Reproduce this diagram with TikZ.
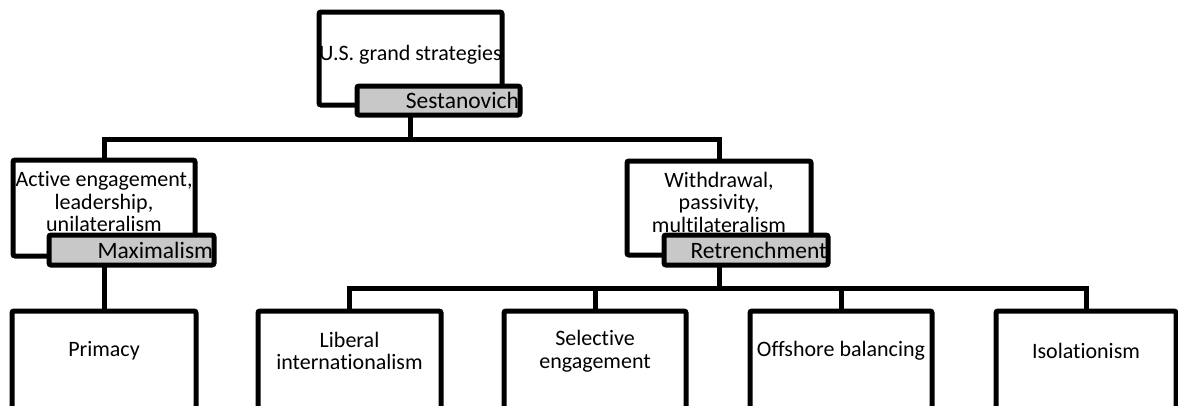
\documentclass[tikz,border=0pt]{standalone}
\usepackage{fontspec}
\setmainfont{Carlito}[Ligatures={NoCommon}]
\usetikzlibrary{calc}
\begin{document}
\begin{tikzpicture}[x=1pt,y=-1pt,
  every node/.style={outer sep=0pt},
  frame/.style={draw=black,line width=5pt,fill=white,rounded corners=2pt,inner sep=0pt},
  tagbox/.style={draw=black,line width=5pt,fill=tagGray,rounded corners=2pt,inner xsep=1pt,inner ysep=0pt,align=right,font=\fontsize{23.5}{24}\selectfont},
  txt/.style={align=center,inner sep=0pt,font=\fontsize{22}{22.5}\selectfont},
  link/.style={draw=black,line width=5pt}]
\definecolor{tagGray}{RGB}{200,200,200}
\clip (0,0) rectangle (1178,405);
\useasboundingbox (0,0) rectangle (1178,405);

% junction heights of the two tree levels
\coordinate (barA) at (0,139);
\coordinate (barB) at (0,288);

% top level
\node[frame,minimum width=183pt,minimum height=93pt] (top) at (410.5,58.5) {};
\node[txt] (topT) at ([yshift=4pt]top.center) {U.S. grand strategies};
\node[tagbox,text width=161pt,minimum height=29pt] (ses) at (438.5,100.5) {Sestanovich};

% second level
\node[frame,minimum width=182pt,minimum height=96pt] (act) at (104,208) {};
\node[txt] (actT) at ([yshift=6pt]act.center) {Active engagement,\\leadership,\\unilateralism};
\node[frame,minimum width=184pt,minimum height=94pt] (wd) at (719,208) {};
\node[txt] (wdT) at ([yshift=6pt]wd.center) {Withdrawal,\\passivity,\\multilateralism};
\node[tagbox,text width=163pt,minimum height=30pt] (max) at (131.5,250) {Maximalism};
\node[tagbox,text width=162pt,minimum height=30pt] (ret) at (746,250) {Retrenchment};

% third level (boxes run past the lower edge)
\node[frame,minimum width=184pt,minimum height=120pt] (prim) at (104,371) {};
\node[frame,minimum width=183pt,minimum height=120pt] (lib) at (349.5,371) {};
\node[frame,minimum width=182pt,minimum height=120pt] (sel) at (595,371) {};
\node[frame,minimum width=182pt,minimum height=120pt] (off) at (841,371) {};
\node[frame,minimum width=180pt,minimum height=120pt] (iso) at (1086,371) {};
\node[txt] (primT) at ([yshift=-40pt]prim.north) {Primacy};
\node[txt] (libT) at ([yshift=-40pt]lib.north) {Liberal\\internationalism};
\node[txt] (selT) at ([yshift=-40pt]sel.north) {Selective\\engagement};
\node[txt] (offT) at ([yshift=-40pt]off.north) {Offshore balancing};
\node[txt] (isoT) at ([yshift=-40pt]iso.north) {Isolationism};

% connectors
\draw[link] (top.south |- ses.south) -- (top.south |- barA);
\draw[link] (act.north) -- (act.north |- barA) -| (wd.north);
\draw[link] (act.south |- max.south) -- (prim.north);
\draw[link] (wd.south |- ret.south) -- (wd.south |- barB);
\draw[link] (lib.north) -- (lib.north |- barB) -| (iso.north);
\draw[link] (sel.north) -- (sel.north |- barB);
\draw[link] (off.north) -- (off.north |- barB);
\end{tikzpicture}
\end{document}
